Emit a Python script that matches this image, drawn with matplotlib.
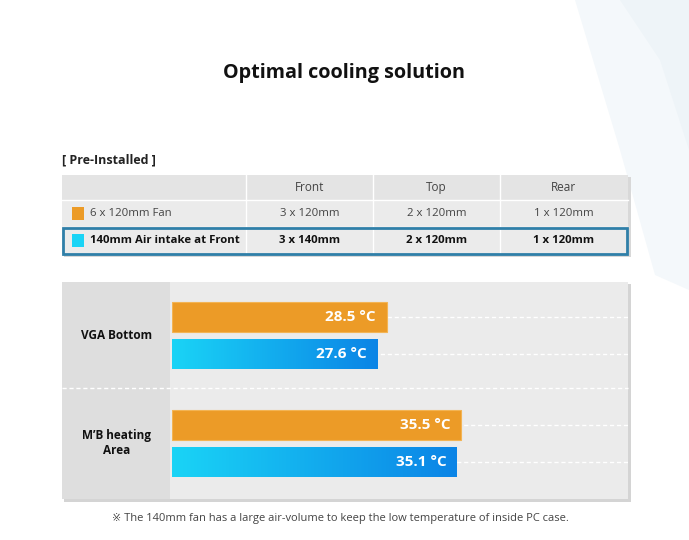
import numpy as np
import matplotlib.pyplot as plt
from matplotlib.patches import Rectangle, Polygon
from matplotlib.colors import LinearSegmentedColormap

plt.rcParams['font.family'] = ['Open Sans', 'DejaVu Sans']

# data
categories = ['VGA Bottom', 'M\u2019B heating\nArea']
default_temps = [28.5, 35.5]
intake_temps = [27.6, 35.1]

table_columns = ['Front', 'Top', 'Rear']
setup_names = ['6 x 120mm Fan', '140mm Air intake at Front']
setup_front = ['3 x 120mm', '3 x 140mm']
setup_top = ['2 x 120mm', '2 x 120mm']
setup_rear = ['1 x 120mm', '1 x 120mm']

orange = '#ec9b27'
cyan = '#1ad4f6'
blue = '#0b84e6'

W, H = 689, 540
fig = plt.figure(figsize=(W / 100, H / 100), dpi=100)
fig.patch.set_facecolor('white')

# -----------------------------
# background layer, pixel coords
# -----------------------------
bg = fig.add_axes([0, 0, 1, 1])
bg.set_xlim(0, W)
bg.set_ylim(H, 0)
bg.axis('off')

bg.add_patch(Polygon([(575, 0), (689, 0), (689, 290), (655, 275), (620, 150)],
                     closed=True, fc='#f4f8fb', ec='none', zorder=0))
bg.add_patch(Polygon([(620, 0), (689, 0), (689, 150), (660, 60)],
                     closed=True, fc='#eef4f8', ec='none', zorder=0))

bg.text(344, 73, 'Optimal cooling solution', ha='center', va='center',
        fontsize=14.2, fontweight='bold', color='#111111')

bg.text(62, 160, '[ Pre-Installed ]', ha='left', va='center',
        fontsize=9, fontweight='bold', color='#222222')

# table
col_x = [62, 246, 373, 500, 628]
row_y = [175, 200, 227, 254]
bg.add_patch(Rectangle((64, 177), 567, 80, fc='#d8d8d8', ec='none', zorder=1))
bg.add_patch(Rectangle((62, 175), 566, 79, fc='#ebebeb', ec='none', zorder=2))
bg.add_patch(Rectangle((62, 175), 566, 25, fc='#e4e4e4', ec='none', zorder=2))
for yy in row_y[1:3]:
    bg.plot([62, 628], [yy, yy], color='white', lw=1, zorder=3)
for xx in col_x[1:4]:
    bg.plot([xx, xx], [175, 254], color='white', lw=1, zorder=3)

for j, name in enumerate(table_columns):
    cx = (col_x[j + 1] + col_x[j + 2]) / 2
    bg.text(cx, 187.5, name, ha='center', va='center', fontsize=8.5, color='#444444', zorder=4)

rows = list(zip(setup_names, setup_front, setup_top, setup_rear))
swatch = [orange, cyan]
for i, row in enumerate(rows):
    cy = (row_y[i + 1] + row_y[i + 2]) / 2
    weight = 'bold' if i == 1 else 'normal'
    color = '#111111' if i == 1 else '#444444'
    bg.add_patch(Rectangle((72, cy - 6.5), 12, 13, fc=swatch[i], ec='none', zorder=4))
    bg.text(90, cy, row[0], ha='left', va='center', fontsize=8.2,
            fontweight=weight, color=color, zorder=4)
    for j in range(3):
        cx = (col_x[j + 1] + col_x[j + 2]) / 2
        bg.text(cx, cy, row[j + 1], ha='center', va='center', fontsize=8.2,
                fontweight=weight, color=color, zorder=4)

bg.add_patch(Rectangle((63, 228), 564, 26, fc='none', ec='#2f7fa8', lw=2, zorder=5))

# bar panel
bg.add_patch(Rectangle((64, 284), 567, 218, fc='#d4d4d4', ec='none', zorder=1))
bg.add_patch(Rectangle((62, 282), 566, 217, fc='#ebebeb', ec='none', zorder=2))
bg.add_patch(Rectangle((62, 282), 108, 217, fc='#dedede', ec='none', zorder=2))
bg.plot([62, 628], [388, 388], color='white', lw=1, ls=(0, (3, 2)), zorder=3)

bg.text(340, 518, '\u203b The 140mm fan has a large air-volume to keep the low temperature of inside PC case.',
        ha='center', va='center', fontsize=8, color='#444444')

# -----------------------------
# bars
# -----------------------------
ax = fig.add_axes([172 / W, (H - 499) / H, (628 - 172) / W, 217 / H])
ax.set_facecolor('none')
ax.set_zorder(2)
x0, x1 = 8.34, 51.16
y_top, y_bot = -0.50, 1.52
off = 0.172
bh = 0.28

group_pos = np.arange(len(categories))
for g in group_pos:
    for yy in (g - off, g + off):
        ax.plot([x0, x1], [yy, yy], color='white', lw=1, ls=(0, (3, 2)), zorder=1)

ax.barh(group_pos - off, np.array(default_temps) - x0, left=x0, height=bh,
        color=orange, edgecolor='#f3b454', linewidth=0.8, zorder=2)

grad = np.linspace(0, 1, 256).reshape(1, -1)
bcmap = LinearSegmentedColormap.from_list('bluegrad', [cyan, blue])
bars_b = ax.barh(group_pos + off, np.array(intake_temps) - x0, left=x0, height=bh,
                 color='none', edgecolor='none', zorder=2)
for b in bars_b:
    im = ax.imshow(grad, cmap=bcmap, aspect='auto', zorder=2,
                   extent=(b.get_x(), b.get_x() + b.get_width(),
                           b.get_y() + b.get_height(), b.get_y()))
    im.set_clip_path(b)

for g in group_pos:
    ax.text(default_temps[g] - 1.0, g - off, f'{default_temps[g]} \u00b0C', ha='right', va='center',
            fontsize=11, fontweight='bold', color='white', zorder=3)
    ax.text(intake_temps[g] - 1.0, g + off, f'{intake_temps[g]} \u00b0C', ha='right', va='center',
            fontsize=11, fontweight='bold', color='white', zorder=3)

ax.set_xlim(x0, x1)
ax.set_ylim(y_bot, y_top)
ax.axis('off')

# category labels in the left column
for g, cat in zip(group_pos, categories):
    py = 335.5 + g * 107.5
    bg.text(117, py, cat, ha='center', va='center', fontsize=8.5,
            fontweight='bold', color='#111111', linespacing=1.3, zorder=4)

fig.savefig('out.png', dpi=100)
